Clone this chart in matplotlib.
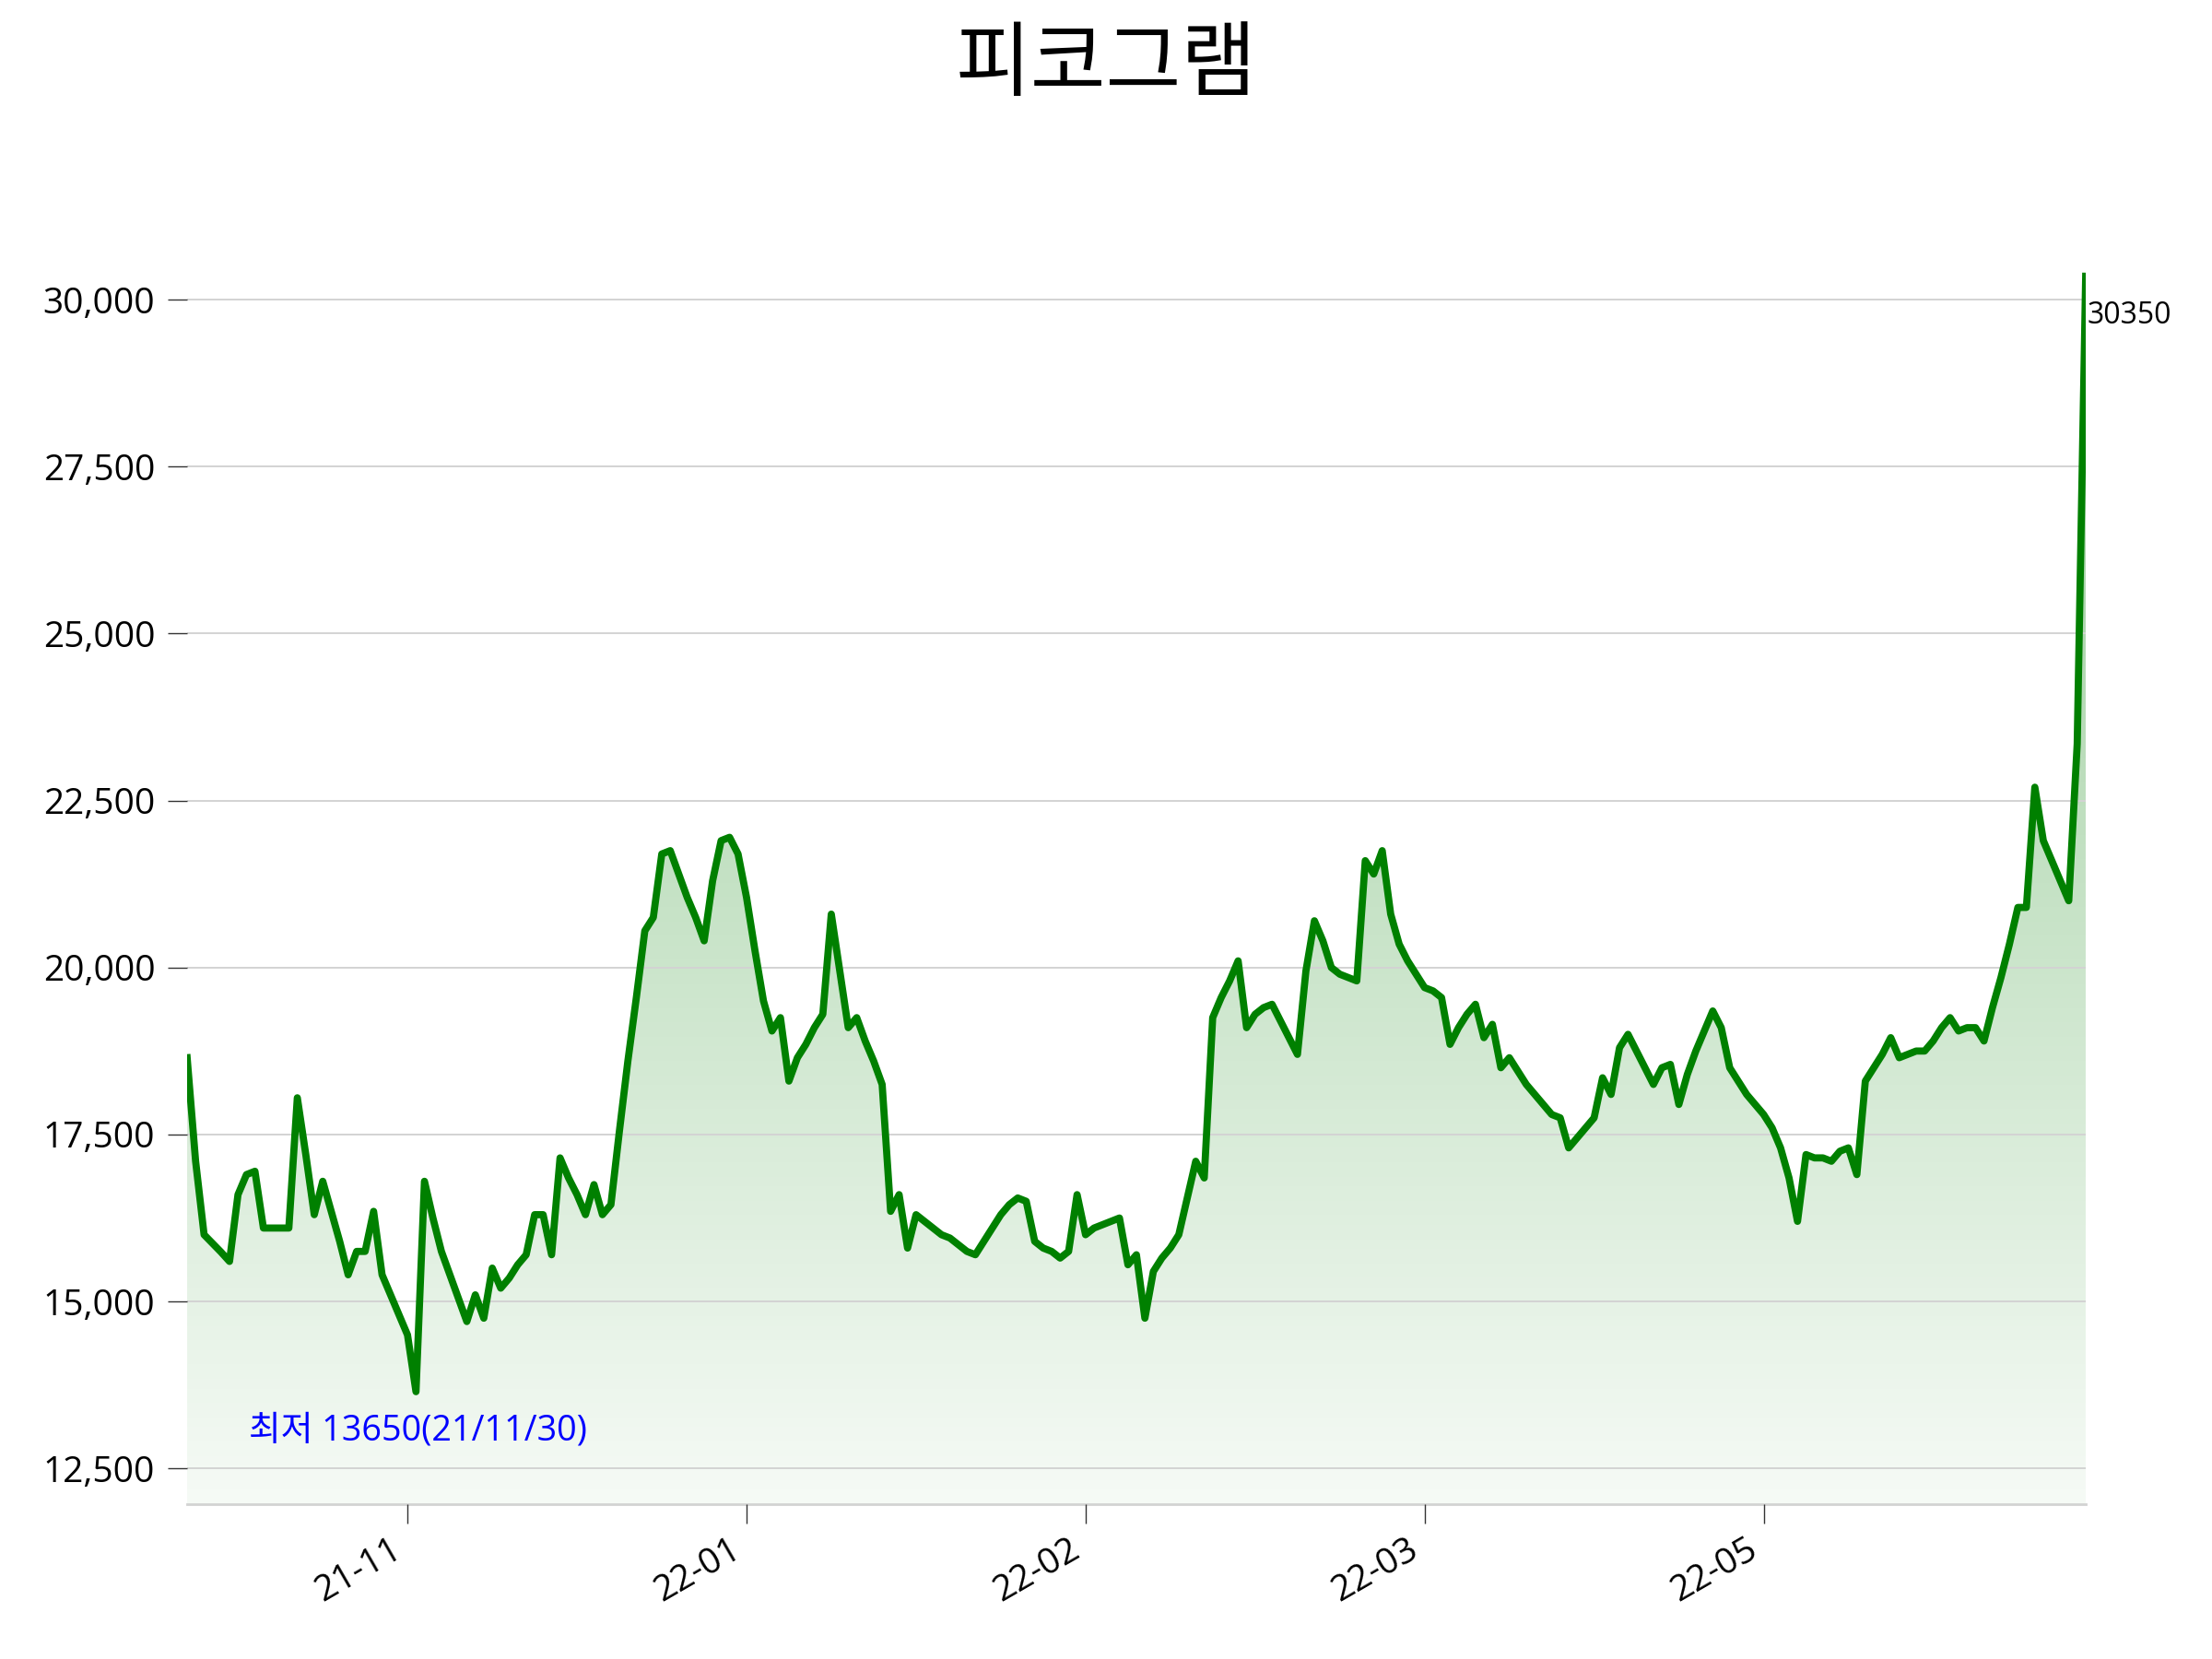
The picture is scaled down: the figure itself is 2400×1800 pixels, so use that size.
import numpy as np
import matplotlib.pyplot as plt
from matplotlib.patches import Polygon
from matplotlib.colors import to_rgb
from matplotlib.ticker import FuncFormatter

plt.rcParams['font.family'] = ['Open Sans', 'Noto Sans CJK KR', 'DejaVu Sans']

# daily closing prices
prices = [
    18650, 17100, 16000, 15870, 15740, 15600, 16600, 16900, 16950, 16100,
    16100, 16100, 16100, 18050, 17200, 16300, 16800, 16350, 15900, 15400,
    15750, 15750, 16350, 15400, 15100, 14800, 14500, 13650, 16800, 16250,
    15750, 15400, 15050, 14700, 15100, 14750, 15500, 15200, 15350, 15550,
    15700, 16300, 16300, 15700, 17150, 16850, 16600, 16300, 16750, 16300,
    16450, 17550, 18600, 19550, 20550, 20750, 21700, 21750, 21400, 21050,
    20750, 20400, 21300, 21900, 21950, 21700, 21050, 20250, 19500, 19050,
    19250, 18300, 18650, 18850, 19100, 19300, 20800, 19950, 19100, 19250,
    18900, 18600, 18250, 16350, 16600, 15800, 16300, 16200, 16100, 16000,
    15950, 15850, 15750, 15700, 15900, 16100, 16300, 16450, 16550, 16500,
    15900, 15800, 15750, 15650, 15750, 16600, 16000, 16100, 16150, 16200,
    16250, 15550, 15700, 14750, 15450, 15650, 15800, 16000, 16550, 17100,
    16850, 19250, 19550, 19800, 20100, 19100, 19300, 19400, 19450, 19200,
    18950, 18700, 19950, 20700, 20400, 20000, 19900, 19850, 19800, 21600,
    21400, 21750, 20800, 20350, 20100, 19900, 19700, 19650, 19550, 18850,
    19100, 19300, 19450, 18950, 19150, 18500, 18650, 18450, 18250, 18100,
    17950, 17800, 17750, 17300, 17450, 17600, 17750, 18350, 18100, 18800,
    19000, 18750, 18500, 18250, 18500, 18550, 17950, 18400, 18750, 19050,
    19350, 19100, 18500, 18300, 18100, 17950, 17800, 17600, 17300, 16850,
    16200, 17200, 17150, 17150, 17100, 17250, 17300, 16900, 18300, 18500,
    18700, 18950, 18650, 18700, 18750, 18750, 18900, 19100, 19250, 19050,
    19100, 19100, 18900, 19400, 19850, 20350, 20900, 20900, 22700, 21900,
    21600, 21300, 21000, 23350, 30350,
]
tick_pos = [26, 66, 106, 146, 186]
tick_labels = ['21-11', '22-01', '22-02', '22-03', '22-05']
title = '피코그램'
low_label = '최저 13650(21/11/30)'
last_label = '30350'

x = np.arange(len(prices))
y = np.array(prices, dtype=float)
ymin, ymax = 11965, 30415

fig = plt.figure(figsize=(12, 9), dpi=200)
ax = fig.add_axes([0.0846, 0.0933, 0.8583, 0.7428])

# gradient fill under the line
grad = np.zeros((256, 1, 4))
grad[:, :, :3] = to_rgb('green')
grad[:, 0, 3] = np.linspace(0.04, 0.42, 256)
im = ax.imshow(grad, aspect='auto', origin='lower',
               extent=[x[0], x[-1], ymin, ymax], zorder=1)
verts = np.column_stack([np.r_[x[0], x, x[-1]], np.r_[ymin, y, ymin]])
clip = Polygon(verts, closed=True, facecolor='none', edgecolor='none')
ax.add_patch(clip)
im.set_clip_path(clip)

ax.plot(x, y, color='green', lw=2.8, zorder=3)

ax.set_xlim(x[0], x[-1])
ax.set_ylim(ymin, ymax)

ax.set_axisbelow(False)
ax.yaxis.grid(True, color='#d3d3d3', lw=0.7)
ax.set_yticks(np.arange(12500, 30001, 2500))
ax.yaxis.set_major_formatter(FuncFormatter(lambda v, p: '{:,.0f}'.format(v)))
ax.set_xticks(tick_pos, tick_labels, rotation=30, ha='right')

for s in ['top', 'right', 'left']:
    ax.spines[s].set_visible(False)
ax.spines['bottom'].set_color('#d3d3d3')
ax.spines['bottom'].set_linewidth(1.0)
ax.tick_params(axis='both', length=7.5, width=0.5, color='#333333', labelsize=14)
ax.tick_params(axis='y', pad=5)

ax.text(7.3, 12920, low_label, color='blue', fontsize=13.6, ha='left', va='baseline')
ax.text(x[-1] + 0.2, 29640, last_label, fontsize=11.5, ha='left', va='baseline')

fig.text(0.5, 0.959, title, fontsize=32, ha='center', va='center')

fig.savefig('out.png')
